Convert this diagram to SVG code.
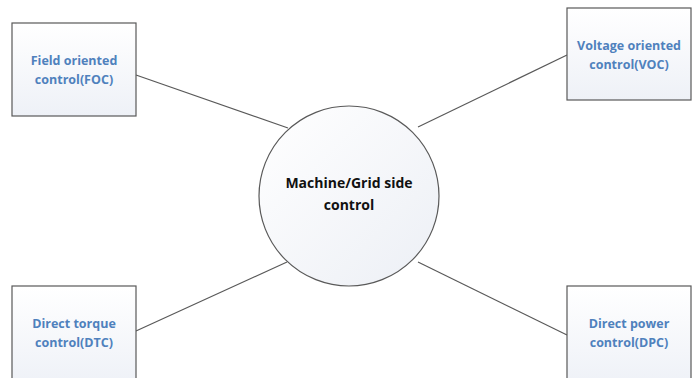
<svg xmlns="http://www.w3.org/2000/svg" width="696" height="378" viewBox="0 0 696 378">
<defs>
<linearGradient id="bg" x1="0" y1="0" x2="0" y2="1"><stop offset="0" stop-color="#ffffff"/><stop offset="1" stop-color="#eef1f7"/></linearGradient>
<linearGradient id="cg" x1="0" y1="0" x2="1" y2="1"><stop offset="0" stop-color="#ffffff"/><stop offset="1" stop-color="#eceff5"/></linearGradient>
<style>
.box{fill:url(#bg);stroke:#595959;stroke-width:1.2}
.lbl{font-family:"Open Sans","Liberation Sans",sans-serif;font-weight:bold;font-size:12.5px;fill:#4f81bd;text-anchor:middle}
.ctr{font-family:"Open Sans","Liberation Sans",sans-serif;font-weight:bold;font-size:14px;fill:#111;text-anchor:middle}
.ln{stroke:#595959;stroke-width:1.2;fill:none}
</style>
</defs>
<rect width="696" height="378" fill="#fff"/>
<g id="connectors">
<line class="ln" x1="136" y1="75" x2="288" y2="128"/>
<line class="ln" x1="567" y1="55" x2="418" y2="127"/>
<line class="ln" x1="136" y1="331" x2="287" y2="262"/>
<line class="ln" x1="567" y1="335" x2="418" y2="262"/>
</g>
<g id="center">
<circle cx="349" cy="196" r="90" fill="url(#cg)" stroke="#595959" stroke-width="1.2"/>
<text class="ctr" x="349" y="188">Machine/Grid side</text>
<text class="ctr" x="349" y="210">control</text>
</g>
<g id="foc">
<rect class="box" x="12" y="23" width="124" height="93"/>
<text class="lbl" x="74" y="65">Field oriented</text>
<text class="lbl" x="74" y="84">control(FOC)</text>
</g>
<g id="voc">
<rect class="box" x="567" y="8" width="124" height="92"/>
<text class="lbl" x="629" y="50">Voltage oriented</text>
<text class="lbl" x="629" y="69">control(VOC)</text>
</g>
<g id="dtc">
<rect class="box" x="12" y="286" width="124" height="100"/>
<text class="lbl" x="74" y="328">Direct torque</text>
<text class="lbl" x="74" y="347">control(DTC)</text>
</g>
<g id="dpc">
<rect class="box" x="567" y="286" width="124" height="100"/>
<text class="lbl" x="629" y="328">Direct power</text>
<text class="lbl" x="629" y="347">control(DPC)</text>
</g>
</svg>
